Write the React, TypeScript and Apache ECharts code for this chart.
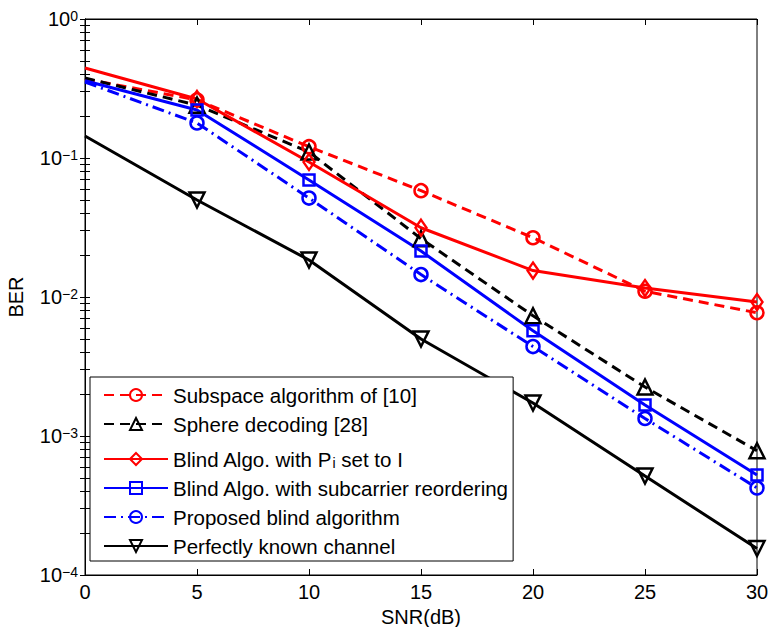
import React, { useEffect, useRef } from 'react';
import * as echarts from 'echarts';

const snr = [0, 5, 10, 15, 20, 25, 30];
const subspace = [0.37, 0.262, 0.1206, 0.0582, 0.0267, 0.011, 0.0077];
const sphere = [0.376, 0.24, 0.1105, 0.0263, 0.00733, 0.00225, 0.000784];
const blindPi = [0.444, 0.266, 0.0936, 0.0315, 0.0155, 0.0116, 0.0092];
const blindReorder = [0.36, 0.2215, 0.0695, 0.0214, 0.00571, 0.00167, 0.000524];
const proposed = [0.352, 0.1786, 0.0515, 0.0145, 0.0044, 0.001336, 0.000423];
const perfect = [0.144, 0.0499, 0.01846, 0.00499, 0.001727, 0.000515, 0.000155];

const names = [
  'Subspace algorithm of [10]',
  'Sphere decoding [28]',
  'Blind Algo. with Pi set to I',
  'Blind Algo. with subcarrier reordering',
  'Proposed blind algorithm',
  'Perfectly known channel',
];

const decades = [-4, -3, -2, -1, 0];
const mantissas = [1, 2, 3, 4, 5, 6, 7, 8, 9];

const FONT = 'Liberation Sans, Arial, Helvetica, sans-serif';

function makeSeries(
  name: string,
  vals: number[],
  color: string,
  lineType: any,
  symbol: string,
  symbolSize: any,
  symbolRotate = 0
) {
  return {
    name,
    type: 'line',
    xAxisIndex: 0,
    yAxisIndex: 0,
    data: snr.map((x, i) =>
      i === 0 ? { value: [x, vals[i]], symbol: 'none' } : [x, vals[i]]
    ),
    symbol,
    symbolSize,
    symbolRotate,
    showAllSymbol: true,
    lineStyle: { color, width: 3, type: lineType },
    itemStyle: { color: 'rgba(255,255,255,0)', borderColor: color, borderWidth: 2.5 },
    emphasis: { disabled: true },
  };
}

export default function App() {
  const ref = useRef<HTMLDivElement>(null);
  useEffect(() => {
    if (!ref.current) return;
    const chart = echarts.init(ref.current, null, { renderer: 'svg' });
    const minorVals: number[] = [];
    decades.forEach((d) => {
      mantissas.forEach((m) => {
        const v = m * Math.pow(10, d);
        if (v <= 1.0000001) minorVals.push(parseFloat(v.toPrecision(6)));
      });
    });
    const yLabelRich = {
      b: { fontSize: 20, fontFamily: FONT, color: '#000', verticalAlign: 'bottom', lineHeight: 20 },
      s: { fontSize: 14, fontFamily: FONT, color: '#000', verticalAlign: 'top', lineHeight: 14, padding: [0, 0, 13, 0] },
    };
    const option: any = {
      animation: false,
      backgroundColor: '#fff',
      textStyle: { fontFamily: FONT },
      grid: {
        left: 85,
        right: 12,
        top: 19,
        bottom: 52,
        containLabel: false,
        outerBoundsMode: 'none',
        show: true,
        borderColor: '#000',
        borderWidth: 1,
        backgroundColor: 'transparent',
      },
      xAxis: [
        {
          type: 'value',
          min: 0,
          max: 30,
          interval: 5,
          position: 'bottom',
          name: 'SNR(dB)',
          nameLocation: 'middle',
          nameGap: 28,
          nameTextStyle: { fontSize: 20, fontFamily: FONT, color: '#000' },
          axisLine: { show: true, lineStyle: { color: '#000', width: 1 } },
          axisTick: { show: true, inside: true, length: 6, lineStyle: { color: '#000' } },
          axisLabel: { fontSize: 20, fontFamily: FONT, color: '#000', margin: 7 },
          splitLine: { show: false },
        },
        {
          type: 'value',
          min: 0,
          max: 30,
          interval: 5,
          position: 'top',
          axisLine: { show: true, lineStyle: { color: '#000', width: 1 } },
          axisTick: { show: true, inside: true, length: 6, lineStyle: { color: '#000' } },
          axisLabel: { show: false },
          splitLine: { show: false },
        },
      ],
      yAxis: [
        {
          type: 'log',
          logBase: 10,
          min: 0.0001,
          max: 1,
          position: 'left',
          name: 'BER',
          nameLocation: 'middle',
          nameGap: 59,
          nameRotate: 90,
          nameTextStyle: { fontSize: 20, fontFamily: FONT, color: '#000' },
          axisLine: { show: true, lineStyle: { color: '#000', width: 1 } },
          axisTick: { show: true, inside: true, length: 5, customValues: minorVals, lineStyle: { color: '#000' } },
          axisLabel: {
            margin: 7,
            formatter: (v: number) => {
              const e = Math.round(Math.log10(v));
              const es = e < 0 ? '\u2212' + Math.abs(e) : String(e);
              return '{b|10}{s|' + es + '}';
            },
            rich: yLabelRich,
          },
          splitLine: { show: false },
        },
        {
          type: 'log',
          logBase: 10,
          min: 0.0001,
          max: 1,
          position: 'right',
          axisLine: { show: true, lineStyle: { color: '#000', width: 1 } },
          axisTick: { show: true, inside: true, length: 5, customValues: minorVals, lineStyle: { color: '#000' } },
          axisLabel: { show: false },
          splitLine: { show: false },
        },
      ],
      legend: {
        orient: 'vertical',
        left: 90,
        top: 377,
        padding: [7, 4, 4, 13],
        itemGap: 7,
        itemWidth: 64,
        itemHeight: 15,
        backgroundColor: '#fff',
        borderColor: '#000',
        borderWidth: 1,
        borderRadius: 0,
        selectedMode: false,
        textStyle: {
          fontSize: 20.5,
          fontFamily: FONT,
          color: '#000',
          lineHeight: 22,
          rich: {
            sub: { fontSize: 14, fontFamily: FONT, color: '#000', verticalAlign: 'bottom', lineHeight: 14, padding: [14, 0, 0, 0] },
          },
        },
        formatter: (name: string) =>
          name === names[2] ? 'Blind Algo. with P{sub|i} set to I' : name,
        data: names,
      },
      series: [
        makeSeries(names[0], subspace, '#ff0000', [10, 6], 'circle', 13),
        makeSeries(names[1], sphere, '#000000', [10, 6], 'triangle', 15),
        makeSeries(names[2], blindPi, '#ff0000', 'solid', 'diamond', [11, 16]),
        makeSeries(names[3], blindReorder, '#0000ff', 'solid', 'rect', 11),
        makeSeries(names[4], proposed, '#0000ff', [12, 5, 2, 5], 'circle', 13),
        makeSeries(names[5], perfect, '#000000', 'solid', 'triangle', 15, 180),
      ],
    };
    chart.setOption(option);
    return () => chart.dispose();
  }, []);
  return <div ref={ref} style={{ width: 769, height: 627, position: 'absolute', left: 0, top: 0 }} />;
}
